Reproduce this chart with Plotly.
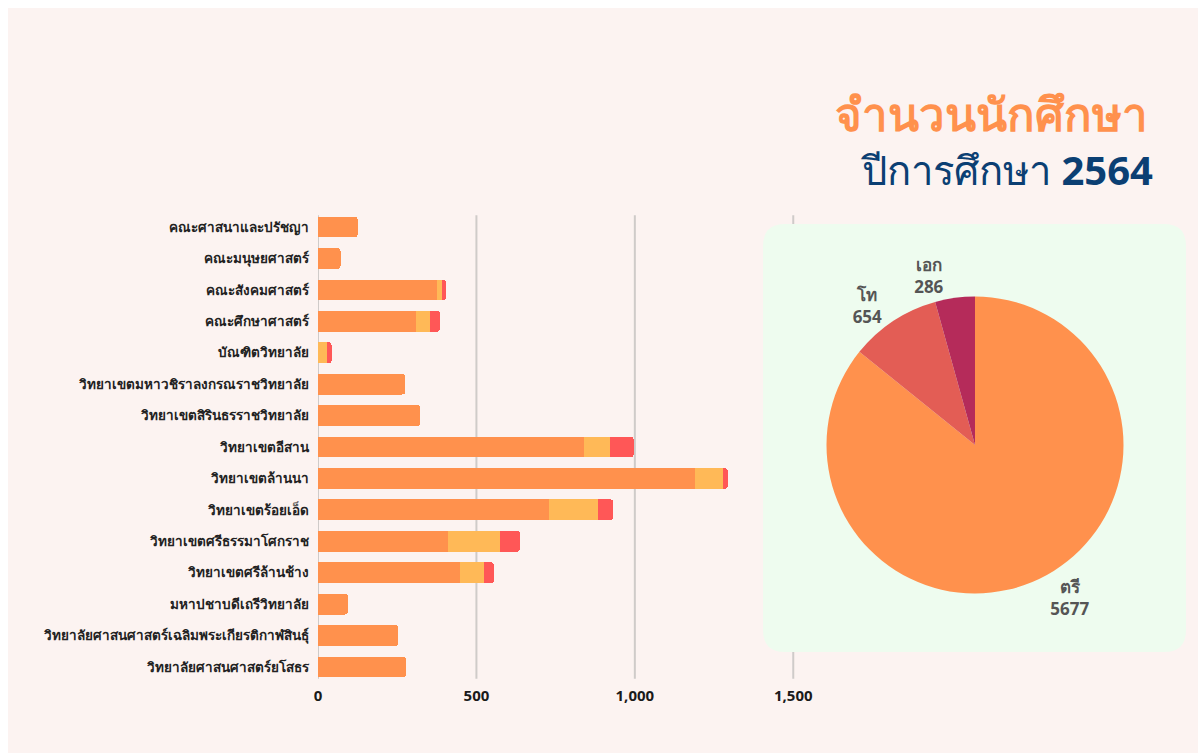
import plotly.graph_objects as go

W, H = 1190, 745

faculties = [
    "คณะศาสนาและปรัชญา",
    "คณะมนุษยศาสตร์",
    "คณะสังคมศาสตร์",
    "คณะศึกษาศาสตร์",
    "บัณฑิตวิทยาลัย",
    "วิทยาเขตมหาวชิราลงกรณราชวิทยาลัย",
    "วิทยาเขตสิรินธรราชวิทยาลัย",
    "วิทยาเขตอีสาน",
    "วิทยาเขตล้านนา",
    "วิทยาเขตร้อยเอ็ด",
    "วิทยาเขตศรีธรรมาโศกราช",
    "วิทยาเขตศรีล้านช้าง",
    "มหาปชาบดีเถรีวิทยาลัย",
    "วิทยาลัยศาสนศาสตร์เฉลิมพระเกียรติกาฬสินธุ์",
    "วิทยาลัยศาสนศาสตร์ยโสธร",
]
bachelor = [125, 71, 377, 308, 0, 275, 323, 840, 1191, 728, 410, 447, 95, 254, 277]
master = [0, 0, 13, 45, 29, 0, 0, 82, 87, 155, 163, 78, 0, 0, 0]
doctor = [0, 0, 14, 32, 14, 0, 0, 74, 15, 49, 64, 30, 0, 0, 0]

levels = ["ตรี", "โท", "เอก"]
level_totals = [5677, 654, 286]

x_ticks = [0, 500, 1000, 1500]
x_tick_labels = ["0", "500", "1,000", "1,500"]
x_range = [0, 1520]

title_1 = "จำนวนนักศึกษา"
title_2 = "ปีการศึกษา <b>2564</b>"

BAR_COLORS = ["#FF914D", "#FFB957", "#FF5757"]
PIE_COLORS = ["#FF914D", "#E35D55", "#B52B5A"]
GRID = "#CFCBC9"
FONT = "Noto Sans, DejaVu Sans, sans-serif"
BG = "#FCF3F1"


def fx(p):
    return (p - 8) / W


def fy(p):
    return 1 - (p - 8) / H


# plot-area edges (page pixels)
PX0, PX1 = 318, 799.6
PY0, PY1 = 211.3, 682.7

fig = go.Figure()
for name, vals, col in zip(levels, [bachelor, master, doctor], BAR_COLORS):
    fig.add_trace(go.Bar(
        y=faculties, x=vals, orientation="h", name=name,
        marker=dict(color=col, line=dict(width=0)),
        showlegend=False,
    ))

pie_domain = dict(x=[fx(975 - 148.5), fx(975 + 148.5)], y=[fy(445 + 148.5), fy(445 - 148.5)])
pie_font = dict(size=17, color="#555555", family=FONT, weight="bold")
fig.add_trace(go.Pie(
    labels=levels, values=level_totals, sort=False, direction="clockwise",
    rotation=0,
    marker=dict(colors=PIE_COLORS, line=dict(width=0)),
    textposition=["outside", "outside", "none"],
    texttemplate="%{label}<br>%{value}",
    textfont=pie_font, automargin=False,
    domain=pie_domain, showlegend=False,
))
fig.add_trace(go.Pie(
    labels=levels, values=level_totals, sort=False, direction="clockwise",
    rotation=0,
    marker=dict(colors=["rgba(0,0,0,0)"] * 3, line=dict(width=0)),
    textposition=["none", "none", "outside"],
    texttemplate="%{label}<br>%{value}",
    textfont=pie_font, automargin=False,
    domain=pie_domain, showlegend=False, hoverinfo="skip",
))

# vertical gridlines at the tick values (axis-referenced), then the panel on top of them
shapes = [
    dict(type="line", xref="x", yref="paper", x0=v, x1=v,
         y0=fy(PY1 - 4), y1=fy(PY0 + 4), layer="below",
         line=dict(color=GRID, width=2))
    for v in x_ticks
]

L, R, T, B, RAD = 763, 1186, 224, 652, 22
panel_path = (
    f"M {fx(L + RAD)},{fy(T)} L {fx(R - RAD)},{fy(T)} Q {fx(R)},{fy(T)} {fx(R)},{fy(T + RAD)} "
    f"L {fx(R)},{fy(B - RAD)} Q {fx(R)},{fy(B)} {fx(R - RAD)},{fy(B)} "
    f"L {fx(L + RAD)},{fy(B)} Q {fx(L)},{fy(B)} {fx(L)},{fy(B - RAD)} "
    f"L {fx(L)},{fy(T + RAD)} Q {fx(L)},{fy(T)} {fx(L + RAD)},{fy(T)} Z"
)
shapes.append(dict(type="path", xref="paper", yref="paper", layer="below",
                   path=panel_path, fillcolor="#EEFCEF", line=dict(width=0)))

fig.update_layout(
    width=W, height=H, autosize=False,
    margin=dict(l=0, r=0, t=0, b=0, pad=0, autoexpand=False),
    paper_bgcolor=BG,
    plot_bgcolor="rgba(0,0,0,0)",
    barmode="stack", bargap=0.34, barcornerradius=3,
    font=dict(family=FONT),
    xaxis=dict(
        domain=[fx(PX0), fx(PX1)], range=x_range, automargin=False,
        tickvals=x_ticks, ticktext=x_tick_labels,
        showgrid=False, zeroline=False, showline=False,
        tickfont=dict(size=15, color="#1a1a1a", family=FONT, weight="bold"),
        ticks="", ticklabelstandoff=2,
    ),
    yaxis=dict(
        domain=[fy(PY1), fy(PY0)], autorange="reversed", automargin=False,
        showgrid=False, zeroline=False, showline=False,
        tickfont=dict(size=13.5, color="#222222", family=FONT, weight="bold"),
        ticks="", ticklabelstandoff=8,
    ),
    shapes=shapes,
    annotations=[
        dict(text=title_1, x=fx(1150), y=fy(113), xref="paper", yref="paper",
             xanchor="right", yanchor="middle", showarrow=False,
             font=dict(size=45.5, color="#FF914D", family=FONT, weight="bold")),
        dict(text=title_2, x=fx(1155), y=fy(170), xref="paper", yref="paper",
             xanchor="right", yanchor="middle", showarrow=False,
             font=dict(size=40, color="#0B3F73", family=FONT)),
    ],
)

# keep the 8px top/left page margin but let the figure run to the window edges without scrolling
fig.write_html(
    "out.html",
    post_script="document.body.style.margin='8px 0 0 8px';document.body.style.overflow='hidden';",
)
